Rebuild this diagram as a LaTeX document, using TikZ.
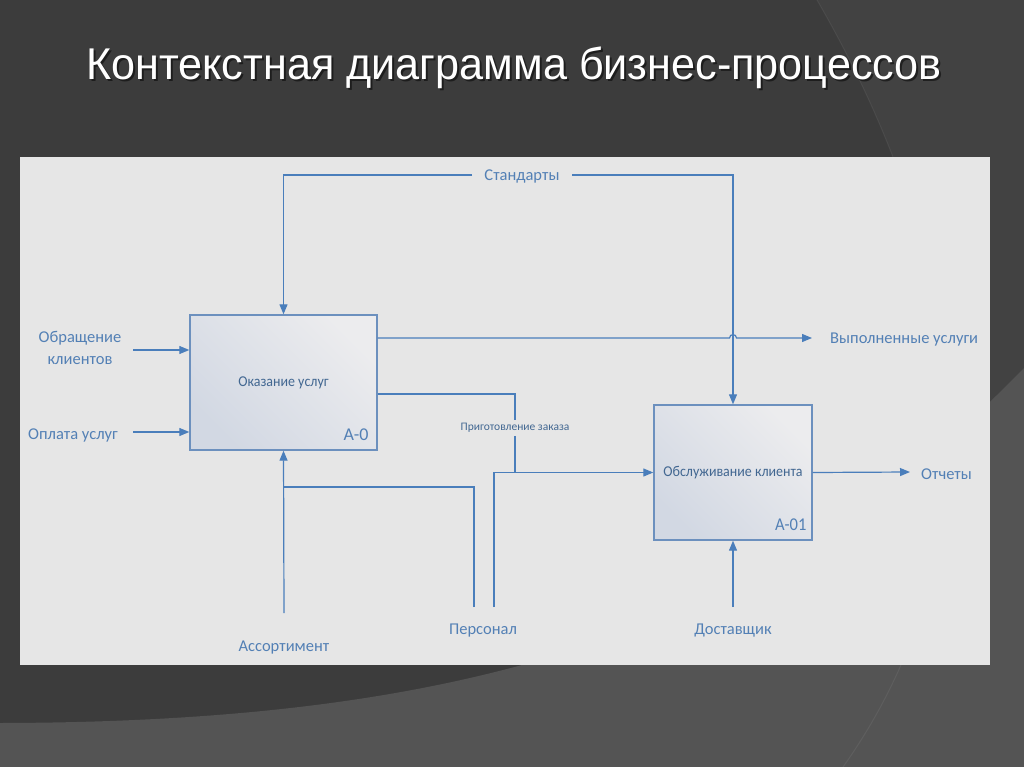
\documentclass[tikz,border=0pt]{standalone}
\usepackage{fontspec}
\setmainfont{Carlito}
\newfontfamily\titlefont{Liberation Sans}
\usetikzlibrary{arrows.meta,calc}
\definecolor{bgdark}{HTML}{3C3C3C}
\definecolor{bglight}{HTML}{545454}
\definecolor{panel}{HTML}{E6E6E6}
\definecolor{lineblue}{HTML}{4A7EBB}
\definecolor{boxline}{HTML}{6C90BE}
\definecolor{txtblue}{HTML}{5380B5}
\definecolor{boxtl}{HTML}{D2D8E3}
\definecolor{boxbr}{HTML}{ECECEE}
\tikzset{
  conn/.style={draw=lineblue, line width=1.2pt},
  arr/.style={conn, -{Triangle[length=10pt,width=8pt]}},
  proc/.style={draw=boxline, line width=1.4pt, shading=axis, left color=boxtl, right color=boxbr, shading angle=135, inner sep=0pt},
  lbl/.style={text=txtblue, font=\fontsize{16.5}{22}\selectfont, inner sep=0pt},
  small/.style={text=txtblue!80!black, font=\fontsize{15}{18}\selectfont, inner sep=0pt},
  tiny/.style={text=txtblue!80!black, font=\fontsize{11.5}{13}\selectfont, inner sep=0pt},
  ident/.style={text=txtblue, font=\fontsize{18}{20}\selectfont, inner sep=0pt},
}
\begin{document}
\begin{tikzpicture}[x=1pt,y=-1pt]
\useasboundingbox (0,0) rectangle (1024,767);
% background
\fill[bgdark] (0,0) rectangle (1024,767);
\fill[white, opacity=0.03] (817,0) .. controls (985,290) and (990,560) .. (843,767) -- (1024,767) -- (1024,0) -- cycle;
\fill[bglight] (0,723) .. controls (450,722) and (760,640) .. (1024,368) -- (1024,767) -- (0,767) -- cycle;
\draw[white, opacity=0.06, line width=1pt] (817,0) .. controls (985,290) and (990,560) .. (843,767);
% title
\node[text=black, opacity=0.5, anchor=base, font=\titlefont\fontsize{44.5}{48}\selectfont] (titleshadow) at (516,82) {\scalebox{0.97}[1]{Контекстная диаграмма  бизнес-процессов}};
\node[text=white, anchor=base, font=\titlefont\fontsize{44.5}{48}\selectfont] (title) at (514,80) {\scalebox{0.97}[1]{Контекстная диаграмма  бизнес-процессов}};
% panel
\fill[panel] (20,157) rectangle (990,665);
% boxes
\node[proc, minimum width=187pt, minimum height=135pt] (A0) at (283.5,382.5) {};
\node[proc, minimum width=158pt, minimum height=135pt] (A01) at (733,472.5) {};
\node[small] (A0t) at (A0.center) {\scalebox{0.93}[1]{Оказание услуг}};
\node[small] (A01t) at (A01.center) {\scalebox{0.93}[1]{Обслуживание клиента}};
\node[ident, anchor=base east] (A0id) at ($(A0.south east)+(-9,-10)$) {A-0};
\node[ident, anchor=base east] (A01id) at ($(A01.south east)+(-6,-10)$) {\scalebox{0.92}[1]{A-01}};
% labels
\node[lbl] (std) at (522,177) {Стандарты};
\node[lbl, align=center] (obr) at (80,348) {Обращение\\клиентов};
\node[lbl] (opl) at (73,435) {Оплата услуг};
\node[lbl, anchor=west] (vyp) at (830,340) {Выполненные услуги};
\node[lbl, anchor=west] (otch) at (921,474) {Отчеты};
\node[lbl] (ass) at (284,648) {Ассортимент};
\node[lbl] (pers) at (483,631) {Персонал};
\node[lbl] (dost) at (733,631) {Доставщик};
\node[tiny, fill=panel, inner xsep=0pt, inner ysep=3pt] (prig) at (515,428) {Приготовление заказа};
% coordinates
\coordinate (stdL) at (472,175);
\coordinate (stdR) at (572,175);
\coordinate (obrE) at (133,350);
\coordinate (oplE) at (133,432);
\coordinate (vypIn) at (812,338);
\coordinate (otchIn) at (910,472);
\coordinate (assTop) at (284,613);
\coordinate (pers1) at (474,607);
\coordinate (pers2) at (494,607);
\coordinate (dostTop) at (733,607);
\coordinate (prigStart) at ($(A0.east)+(0,11.5)$);
\coordinate (outStart) at ($(A0.east)+(0,-44.5)$);
% connectors
\draw[arr] (stdL) -| (A0.north);
\draw[arr] (stdR) -| (A01.north);
\draw[arr] (obrE) -- (obrE -| A0.west);
\draw[arr] (oplE) -- (oplE -| A0.west);
\draw[arr] (outStart) -- (729.5,338) .. controls (729.5,333.5) and (736.5,333.5) .. (736.5,338) -- (vypIn);
\draw[conn] (prigStart) -| (prig.north);
\draw[conn] (prig.south) -- (prig.south |- A01.west);
\draw[arr] (pers2) |- (A01.west);
\draw[conn] (pers1) |- (284,487);
\draw[arr] (assTop) -- (A0.south);
\draw[arr] (dostTop) -- (A01.south);
\draw[arr] (A01.east) -- (otchIn);
\end{tikzpicture}
\end{document}
